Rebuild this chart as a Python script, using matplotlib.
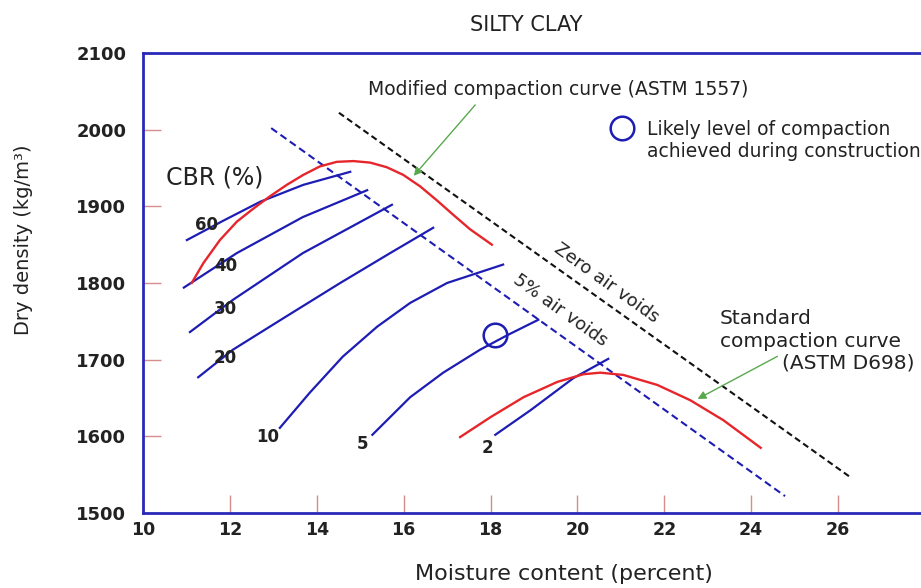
import matplotlib
matplotlib.use('Agg')
import matplotlib.pyplot as plt

# moisture content (%) / dry density (kg/m3)
mod_w = [11.12, 11.39, 11.77, 12.16, 12.54, 12.92, 13.31, 13.69, 14.07, 14.46,
         14.84, 15.23, 15.61, 15.99, 16.38, 16.76, 17.14, 17.53, 18.03]
mod_d = [1800, 1826, 1856, 1880, 1897, 1913, 1928, 1941, 1952, 1958,
         1959, 1957, 1951, 1941, 1926, 1908, 1889, 1870, 1850]

std_w = [17.30, 18.00, 18.76, 19.54, 20.14, 20.53, 21.06, 21.84, 22.60, 23.36, 24.22]
std_d = [1599, 1625, 1651, 1671, 1681, 1683, 1680, 1667, 1647, 1621, 1585]

zav_w = [14.51, 26.30]
zav_d = [2022, 1546]
av5_w = [12.95, 24.78]
av5_d = [2002, 1522]

cbr_labels = ['60', '40', '30', '20', '10', '5', '2']
cbr_w = [
    [11.01, 11.84, 12.70, 13.69, 14.77],
    [10.94, 12.16, 13.68, 15.16],
    [11.08, 12.07, 13.68, 15.73],
    [11.27, 12.07, 13.23, 14.54, 15.69, 16.68],
    [13.15, 13.84, 14.60, 15.39, 16.15, 17.00, 18.29],
    [15.28, 16.15, 16.91, 17.76, 18.39, 19.10],
    [18.11, 18.92, 19.91, 20.71],
]
cbr_d = [
    [1856, 1881, 1906, 1928, 1945],
    [1794, 1839, 1886, 1921],
    [1736, 1778, 1839, 1902],
    [1677, 1713, 1754, 1800, 1839, 1872],
    [1611, 1657, 1704, 1743, 1774, 1800, 1824],
    [1602, 1651, 1683, 1713, 1732, 1752],
    [1602, 1634, 1676, 1701],
]
# where each CBR number sits
cbr_lab_w = [11.47, 11.91, 11.89, 11.89, 12.88, 15.06, 17.94]
cbr_lab_d = [1876, 1822, 1766, 1702, 1599, 1590, 1585]

site_w, site_d = 18.10, 1732      # likely compaction achieved
key_w, key_d = 21.03, 2002        # circle used as the key

x_ticks = [10, 12, 14, 16, 18, 20, 22, 24, 26]
y_ticks = [1500, 1600, 1700, 1800, 1900, 2000, 2100]

blue = '#1d1db4'
red = '#e6262b'
green = '#5aa84e'
txt = '#222222'

fig = plt.figure(figsize=(9.21, 5.88), dpi=100)
ax = fig.add_axes([0.1553, 0.1276, 0.8447, 0.7823])

ax.plot(zav_w, zav_d, color='#111111', lw=1.5, ls=(0, (3, 1.8)))
ax.plot(av5_w, av5_d, color=blue, lw=1.5, ls=(0, (3.5, 2)))

for w, d in zip(cbr_w, cbr_d):
    ax.plot(w, d, color=blue, lw=1.6, solid_joinstyle='round')
for lab, w, d in zip(cbr_labels, cbr_lab_w, cbr_lab_d):
    ax.text(w, d, lab, fontsize=12, fontweight='bold', color=txt, ha='center', va='center')

ax.plot(mod_w, mod_d, color=red, lw=1.7)
ax.plot(std_w, std_d, color=red, lw=1.7)

ax.plot([site_w], [site_d], 'o', ms=17, mfc='none', mec=blue, mew=1.8)
ax.plot([key_w], [key_d], 'o', ms=17, mfc='none', mec=blue, mew=1.8)

# arrows pointing at the two compaction curves
ax.annotate('', xy=(16.19, 1937), xytext=(17.69, 2035),
            arrowprops=dict(arrowstyle='-|>', color=green, lw=1, mutation_scale=12))
ax.annotate('', xy=(22.71, 1647), xytext=(24.66, 1706),
            arrowprops=dict(arrowstyle='-|>', color=green, lw=1, mutation_scale=12))

ax.text(15.18, 2045, 'Modified compaction curve (ASTM 1557)', fontsize=13.5, color=txt, va='baseline')
ax.text(21.60, 1993, 'Likely level of compaction', fontsize=13.5, color=txt, va='baseline')
ax.text(21.60, 1964, 'achieved during construction', fontsize=13.5, color=txt, va='baseline')
ax.text(10.53, 1929, 'CBR (%)', fontsize=17, color=txt, va='baseline')
ax.text(23.28, 1747, 'Standard', fontsize=14.5, color=txt, va='baseline')
ax.text(23.28, 1717, 'compaction curve', fontsize=14.5, color=txt, va='baseline')
ax.text(24.71, 1689, '(ASTM D698)', fontsize=14.5, color=txt, va='baseline')
ax.text(20.66, 1800, 'Zero air voids', fontsize=13, color=txt, rotation=-35.5,
        ha='center', va='center', rotation_mode='anchor')
ax.text(19.60, 1765, '5% air voids', fontsize=13, color=txt, rotation=-35.5,
        ha='center', va='center', rotation_mode='anchor')

ax.set_xlim(10, 27.91)
ax.set_ylim(1500, 2100)
ax.set_xticks(x_ticks, labels=[str(v) for v in x_ticks], fontweight='bold', fontsize=12.5, color=txt)
ax.set_yticks(y_ticks, labels=[str(v) for v in y_ticks], fontweight='bold', fontsize=13, color=txt)
ax.tick_params(direction='in', length=13, width=1, color='#d98c8c')
ax.tick_params(axis='y', pad=12)
ax.tick_params(axis='x', pad=6)

for s in ['left', 'top', 'bottom']:
    ax.spines[s].set_color('#2a2ab8')
    ax.spines[s].set_linewidth(2)
ax.spines['right'].set_visible(False)

fig.text(526 / 921, 1 - 30.7 / 588, 'SILTY CLAY', fontsize=15, color=txt, ha='center', va='baseline')
fig.text(0.6124, 0.0136, 'Moisture content (percent)', fontsize=16, color=txt, ha='center', va='baseline')
fig.text(0.025, 0.592, 'Dry density (kg/m³)', fontsize=14, color=txt, rotation=90, ha='center', va='center')

fig.savefig('out.png', dpi=100)
